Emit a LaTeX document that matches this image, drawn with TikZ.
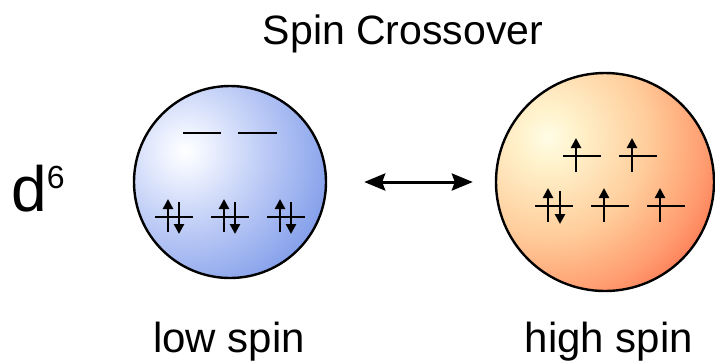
\documentclass[tikz,border=0pt]{standalone}
\usepackage{fontspec}
\setmainfont{Liberation Sans}
\usetikzlibrary{arrows.meta}

% ball colours
\definecolor{lsA}{RGB}{240,244,255}
\definecolor{lsB}{RGB}{185,200,245}
\definecolor{lsD}{RGB}{100,135,228}
\definecolor{lsE}{RGB}{85,118,224}
\definecolor{hsA}{RGB}{255,252,230}
\definecolor{hsB}{RGB}{255,243,205}
\definecolor{hsC}{RGB}{255,205,155}
\definecolor{hsD}{RGB}{255,155,110}
\definecolor{hsE}{RGB}{250,95,65}
\definecolor{hsF}{RGB}{238,55,38}

\pgfdeclareradialshading{lowgrad}{\pgfpointorigin}{color(0bp)=(white); color(3bp)=(lsA); color(13bp)=(lsB); color(30bp)=(lsD); color(35bp)=(lsE); color(50bp)=(lsE)}
\pgfdeclareradialshading{highgrad}{\pgfpointorigin}{color(0bp)=(hsA); color(3.5bp)=(hsB); color(13bp)=(hsC); color(21bp)=(hsD); color(28bp)=(hsE); color(33bp)=(hsF); color(50bp)=(hsF)}

\begin{document}
\begin{tikzpicture}[x=1pt,y=-1pt,
  orbital/.style={line width=2.8pt},
  spin/.style={line width=2.8pt,-{Triangle[length=10pt,width=10pt]}},
  ball/.style={circle,draw,line width=2.4pt,inner sep=0pt},
  lbl/.style={anchor=base,font=\fontsize{42}{42}\selectfont},
  swap/.style={line width=3pt,{Stealth[length=21pt,width=17pt,inset=3pt]}-{Stealth[length=21pt,width=17pt,inset=3pt]}}]
\useasboundingbox (0,0) rectangle (715,360);

% the two complexes
\node[ball,minimum size=192pt,path picture={
  \shade[shading=lowgrad] ([shift={(-45,-31)}]path picture bounding box.center) circle (160pt);}] (low) at (230,182) {};
\node[ball,minimum size=218pt,path picture={
  \shade[shading=highgrad] ([shift={(-57,-45)}]path picture bounding box.center) circle (190pt);}] (high) at (605,182) {};

\draw[swap,shorten <=37pt,shorten >=22pt] (low) -- (high);

% low spin: empty eg, filled t2g
\draw[orbital] (183,133) -- (221,133);
\draw[orbital] (238,133) -- (277,133);
\foreach \x in {174,230,286} {
  \draw[orbital] (\x-19,217) -- (\x+19,217);
  \draw[spin] (\x-6,232) -- (\x-6,199);
  \draw[spin] (\x+5,202) -- (\x+5,234);
}

% high spin
\foreach \x in {582,638} {
  \draw[orbital] (\x-19,156) -- (\x+19,156);
  \draw[spin] (\x-6,172) -- (\x-6,138);
}
\foreach \x in {554,610,666} {
  \draw[orbital] (\x-19,206) -- (\x+19,206);
  \draw[spin] (\x-6,222) -- (\x-6,188);
}
\draw[spin] (560,191) -- (560,224);

% texts
\node[anchor=base,font=\fontsize{41}{41}\selectfont] (title) at (403,44) {Spin Crossover};
\node[anchor=base west,inner sep=0pt] (config) at (11,211) {\fontsize{64}{64}\selectfont d\raisebox{23pt}{\fontsize{32}{32}\selectfont 6}};
\node[lbl] (lowtxt) at (229,352) {low spin};
\node[lbl] (hightxt) at (609,352) {high spin};
\end{tikzpicture}
\end{document}
